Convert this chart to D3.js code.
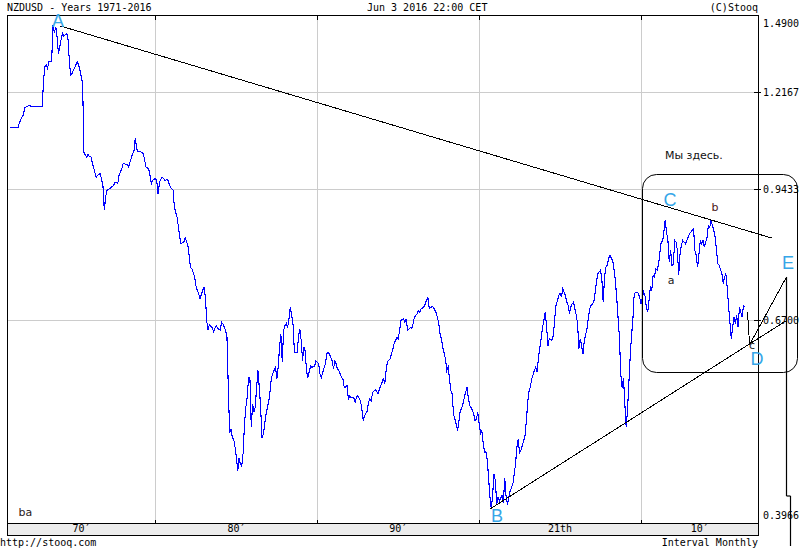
<!DOCTYPE html>
<html><head><meta charset="utf-8">
<script src="https://cdn.jsdelivr.net/npm/d3@7"></script>
<style>body{margin:0;background:#fff}svg{display:block}</style>
</head><body><svg id="c" width="800" height="550"></svg>
<script>
const title = "NZDUSD - Years 1971-2016";
const stamp = "Jun 3 2016 22:00 CET";
const credit = "(C)Stooq";
const source = "http://stooq.com";
const interval = "Interval Monthly";
const yTickValues = [1.4900, 1.2167, 0.9433, 0.6700, 0.3966];
const decadeStarts = [1970, 1980, 1990, 2000, 2010, 2020];
const decadeLabels = ["70′", "80′", "90′", "21th", "10′"];

const dates = [
"1971-01","1971-07","1971-08","1971-10","1971-11","1971-12","1972-02","1972-04","1972-05","1973-01",
"1973-02","1973-03","1973-04","1973-05","1973-06","1973-08","1973-09","1973-10","1973-11","1973-12",
"1974-01","1974-02","1974-03","1974-04","1974-05","1974-07","1974-08","1974-09","1974-10","1974-11",
"1974-12","1975-01","1975-03","1975-04","1975-05","1975-06","1975-07","1975-08","1975-10","1975-11",
"1975-12","1976-01","1976-02","1976-03","1976-04","1976-05","1976-07","1976-08","1976-10","1976-11",
"1976-12","1977-01","1977-03","1977-06","1977-07","1977-09","1977-10","1977-12","1978-01","1978-04",
"1978-05","1978-07","1978-08","1978-09","1978-10","1978-11","1978-12","1979-02","1979-04","1979-06",
"1979-08","1979-10","1979-11","1980-01","1980-02","1980-03","1980-04","1980-06","1980-08","1980-10",
"1980-11","1980-12","1981-02","1981-03","1981-05","1981-06","1981-07","1981-08","1981-10","1981-11",
"1982-01","1982-02","1982-03","1982-04","1982-06","1982-07","1982-08","1982-09","1982-10","1982-12",
"1983-01","1983-02","1983-03","1983-04","1983-05","1983-07","1983-08","1983-10","1983-11","1984-01",
"1984-02","1984-03","1984-05","1984-06","1984-07","1984-08","1984-09","1984-10","1984-11","1984-12",
"1985-01","1985-02","1985-03","1985-04","1985-05","1985-06","1985-07","1985-08","1985-09","1985-10",
"1985-11","1985-12","1986-01","1986-02","1986-03","1986-04","1986-05","1986-06","1986-07","1986-08",
"1986-09","1986-10","1986-11","1987-01","1987-02","1987-03","1987-04","1987-06","1987-07","1987-08",
"1987-09","1987-10","1987-11","1987-12","1988-01","1988-02","1988-03","1988-04","1988-05","1988-06",
"1988-07","1988-08","1988-10","1988-11","1988-12","1989-01","1989-02","1989-03","1989-04","1989-05",
"1989-06","1989-08","1989-09","1989-11","1989-12","1990-02","1990-03","1990-04","1990-05","1990-07",
"1990-08","1990-09","1990-10","1990-12","1991-01","1991-02","1991-03","1991-04","1991-05","1991-07",
"1991-08","1991-09","1991-11","1991-12","1992-01","1992-02","1992-04","1992-05","1992-06","1992-07",
"1992-09","1992-10","1992-11","1992-12","1993-02","1993-03","1993-04","1993-05","1993-06","1993-08",
"1993-09","1993-10","1993-11","1994-01","1994-02","1994-03","1994-04","1994-05","1994-06","1994-07",
"1994-09","1994-10","1994-12","1995-01","1995-02","1995-03","1995-05","1995-06","1995-07","1995-08",
"1995-10","1995-11","1995-12","1996-01","1996-03","1996-04","1996-05","1996-06","1996-08","1996-09",
"1996-10","1996-11","1996-12","1997-02","1997-03","1997-04","1997-05","1997-07","1997-08","1997-09",
"1997-10","1997-12","1998-01","1998-02","1998-03","1998-04","1998-05","1998-06","1998-08","1998-09",
"1998-10","1998-11","1998-12","1999-01","1999-02","1999-04","1999-05","1999-06","1999-07","1999-09",
"1999-10","1999-11","1999-12","2000-02","2000-03","2000-04","2000-05","2000-06","2000-07","2000-08",
"2000-09","2000-10","2000-11","2000-12","2001-01","2001-02","2001-03","2001-04","2001-06","2001-07",
"2001-08","2001-09","2001-10","2001-11","2001-12","2002-02","2002-03","2002-04","2002-05","2002-06",
"2002-07","2002-08","2002-10","2002-11","2002-12","2003-01","2003-02","2003-03","2003-04","2003-06",
"2003-07","2003-08","2003-09","2003-11","2003-12","2004-01","2004-02","2004-03","2004-04","2004-05",
"2004-07","2004-08","2004-09","2004-10","2004-12","2005-01","2005-02","2005-03","2005-05","2005-06",
"2005-07","2005-08","2005-09","2005-10","2005-11","2006-01","2006-02","2006-03","2006-04","2006-05",
"2006-06","2006-07","2006-09","2006-10","2006-11","2006-12","2007-02","2007-03","2007-04","2007-05",
"2007-07","2007-08","2007-09","2007-10","2007-11","2007-12","2008-01","2008-02","2008-04","2008-05",
"2008-06","2008-07","2008-09","2008-10","2008-11","2008-12","2009-01","2009-02","2009-03","2009-04",
"2009-05","2009-06","2009-07","2009-08","2009-10","2009-11","2009-12","2010-01","2010-03","2010-04",
"2010-05","2010-06","2010-07","2010-08","2010-09","2010-10","2010-11","2010-12","2011-01","2011-02",
"2011-03","2011-04","2011-05","2011-06","2011-07","2011-08","2011-09","2011-10","2011-11","2011-12",
"2012-01","2012-02","2012-03","2012-04","2012-05","2012-06","2012-07","2012-08","2012-10","2012-11",
"2012-12","2013-01","2013-03","2013-04","2013-05","2013-06","2013-07","2013-09","2013-10","2013-11",
"2013-12","2014-02","2014-03","2014-04","2014-05","2014-07","2014-08","2014-09","2014-10","2014-11",
"2015-01","2015-02","2015-03","2015-04","2015-05","2015-06","2015-07","2015-08","2015-09","2015-10",
"2015-11","2015-12","2016-01","2016-02","2016-04","2016-05","2016-06"
];
const values = [
1.109,1.109,1.123,1.141,1.146,1.169,1.174,1.176,1.172,1.173,
1.260,1.301,1.307,1.296,1.319,1.321,1.452,1.421,1.445,1.408,
1.345,1.371,1.396,1.420,1.410,1.420,1.408,1.330,1.273,1.277,
1.290,1.296,1.319,1.307,1.290,1.268,1.246,1.038,1.028,1.035,
1.028,1.030,1.015,1.001,0.988,0.975,0.982,0.984,0.954,0.894,
0.926,0.942,0.946,0.954,0.963,0.959,0.980,0.997,1.010,1.008,
1.001,1.024,1.037,1.042,1.081,1.051,1.042,1.042,1.037,1.001,
0.997,0.959,0.967,0.972,0.963,0.932,0.963,0.975,0.967,0.969,
0.959,0.950,0.942,0.902,0.878,0.856,0.833,0.819,0.823,0.832,
0.816,0.791,0.770,0.767,0.751,0.734,0.725,0.719,0.709,0.725,
0.731,0.712,0.670,0.653,0.663,0.658,0.651,0.661,0.657,0.653,
0.667,0.664,0.653,0.641,0.562,0.500,0.504,0.493,0.491,0.481,
0.468,0.452,0.468,0.460,0.458,0.474,0.511,0.534,0.548,0.577,
0.577,0.507,0.539,0.527,0.534,0.562,0.588,0.562,0.534,0.493,
0.498,0.511,0.525,0.543,0.558,0.577,0.583,0.593,0.575,0.593,
0.625,0.647,0.601,0.653,0.661,0.665,0.658,0.673,0.694,0.679,
0.664,0.617,0.617,0.641,0.656,0.636,0.603,0.625,0.619,0.588,
0.577,0.595,0.593,0.595,0.603,0.598,0.583,0.577,0.585,0.598,
0.614,0.617,0.614,0.603,0.590,0.603,0.598,0.590,0.588,0.577,
0.575,0.562,0.565,0.546,0.550,0.548,0.548,0.541,0.548,0.550,
0.543,0.532,0.516,0.522,0.529,0.541,0.546,0.543,0.555,0.559,
0.557,0.553,0.560,0.570,0.577,0.567,0.588,0.601,0.604,0.606,
0.622,0.631,0.641,0.639,0.653,0.670,0.673,0.667,0.673,0.653,
0.658,0.656,0.664,0.676,0.682,0.688,0.685,0.691,0.694,0.700,
0.707,0.711,0.691,0.695,0.694,0.689,0.685,0.667,0.647,0.639,
0.625,0.606,0.588,0.593,0.577,0.558,0.553,0.525,0.511,0.502,
0.515,0.530,0.532,0.539,0.548,0.563,0.548,0.536,0.534,0.525,
0.515,0.518,0.527,0.498,0.502,0.487,0.475,0.475,0.466,0.444,
0.422,0.409,0.425,0.448,0.441,0.414,0.422,0.418,0.424,0.416,
0.444,0.422,0.414,0.422,0.429,0.437,0.448,0.460,0.481,0.491,
0.474,0.477,0.489,0.496,0.515,0.541,0.558,0.563,0.575,0.588,
0.593,0.585,0.609,0.639,0.658,0.670,0.685,0.661,0.627,0.639,
0.636,0.644,0.673,0.697,0.715,0.719,0.712,0.728,0.715,0.703,
0.697,0.682,0.694,0.700,0.703,0.679,0.664,0.622,0.639,0.627,
0.614,0.636,0.656,0.676,0.691,0.697,0.703,0.719,0.741,0.757,
0.764,0.747,0.703,0.751,0.770,0.774,0.788,0.794,0.784,0.767,
0.744,0.712,0.641,0.583,0.562,0.577,0.539,0.507,0.529,0.567,
0.609,0.644,0.670,0.719,0.722,0.719,0.712,0.700,0.722,0.715,
0.694,0.685,0.706,0.731,0.725,0.754,0.751,0.767,0.764,0.777,
0.798,0.823,0.823,0.844,0.871,0.844,0.826,0.781,0.805,0.774,
0.777,0.826,0.823,0.805,0.754,0.798,0.816,0.826,0.819,0.826,
0.833,0.841,0.848,0.852,0.805,0.794,0.770,0.826,0.819,0.826,
0.812,0.833,0.859,0.854,0.871,0.848,0.833,0.805,0.777,0.774,
0.757,0.738,0.751,0.757,0.731,0.694,0.667,0.639,0.658,0.676,
0.664,0.679,0.658,0.694,0.676,0.697,0.694
];

// Hand-drawn annotations, in [decimal year, value]
const trendUpper = [[1974.10, 1.4477], [2018.09, 0.8315]];
const trendLower = [[2000.63, 0.4089], [2019.02, 0.6701]];
const legDE = [[2016.74, 0.6318], [2019.02, 0.7509]];
const legC = [[2016.59, 0.6852], [2016.71, 0.6318]];
const dropE = [[2019.02, 0.7509], [2019.02, 0.4234], [2019.27, 0.4234], [2019.27, 0.3715]];
const boxCorners = [[2010.12, 0.9830], [2019.70, 0.5841]];
const waveLabels = [
  {t: "A", at: [1973.97, 1.4440]}, {t: "B", at: [2001.10, 0.3956]},
  {t: "C", at: [2011.79, 0.9041]}, {t: "D", at: [2017.17, 0.5965]},
  {t: "E", at: [2019.08, 0.7667]}
];
const subLabels = [
  {t: "a", at: [2011.86, 0.7372], c: "#222"},
  {t: "b", at: [2014.57, 0.8923], c: "#4a1515"},
  {t: "c", at: [2016.86, 0.6219], c: "#222"}
];
const noteText = "Мы здесь.";
const noteAt = [2011.48, 1.0224];
const cornerText = "ba";

const svg = d3.select("#c");
const L = 7.5, R = 758.5, T = 15.5, B = 523.5, BB = 535.5;
const parse = d3.timeParse("%Y-%m");
const yr = t => { const y = Math.floor(t); const s = new Date(y, 0, 1), e = new Date(y + 1, 0, 1); return new Date(+s + (t - y) * (e - s)); };

const x = d3.scaleTime().domain([new Date(1980, 0, 1), new Date(2010, 0, 1)]).range([155.5, 641]);
const y = d3.scaleLog().domain([0.3966, 1.49]).range([521, 15]);
const px = d => x(yr(d[0])), py = d => y(d[1]);
const snap = v => Math.round(v - 0.5) + 0.5;
const mono = "'DejaVu Sans Mono', monospace";
const sans = "'DejaVu Sans', sans-serif";

// x-axis band
svg.append("rect").attr("x", L).attr("y", B).attr("width", R - L).attr("height", BB - B).attr("fill", "#ececec");

// grid
const gx = decadeStarts.slice(1, 5).map(d => Math.floor(x(new Date(d, 0, 1))) + 0.5);
svg.selectAll(".vg").data(gx).enter().append("line")
  .attr("x1", d => d).attr("x2", d => d).attr("y1", T).attr("y2", B)
  .attr("stroke", "#cccccc").attr("shape-rendering", "crispEdges");
const gy = yTickValues.slice(1, 4).map(v => Math.floor(y(v)) + 0.5);
svg.selectAll(".hg").data(gy).enter().append("line")
  .attr("x1", L).attr("x2", R).attr("y1", d => d).attr("y2", d => d)
  .attr("stroke", "#cccccc").attr("shape-rendering", "crispEdges");

// data line
const series = dates.map((d, i) => ({date: parse(d), v: values[i]}));
svg.append("path").datum(series)
  .attr("d", d3.line().x(d => x(d.date)).y(d => y(d.v)))
  .attr("fill", "none").attr("stroke", "#0000ff").attr("stroke-width", 1.1)
  .attr("shape-rendering", "crispEdges");

// frame
svg.append("path").attr("d", `M${L},${T}H${R}V${BB}H${L}Z M${L},${B}H${R}`)
  .attr("fill", "none").attr("stroke", "#000").attr("shape-rendering", "crispEdges");
svg.selectAll(".tx").data(gx).enter().append("path")
  .attr("d", d => `M${d},${T}V${T + 4}M${d},${B - 4}V${B}`)
  .attr("stroke", "#000").attr("shape-rendering", "crispEdges");
svg.selectAll(".ty").data(gy).enter().append("path")
  .attr("d", d => `M${R - 5},${d}H${R + 2}`)
  .attr("stroke", "#000").attr("shape-rendering", "crispEdges");

// y labels
svg.selectAll(".yl").data(yTickValues).enter().append("text")
  .attr("x", 763).attr("y", v => Math.max(23.5, Math.min(515, y(v))) + 3.5)
  .attr("font-family", mono).attr("font-size", 10).attr("fill", "#000")
  .text(v => v.toFixed(4));

// x labels
svg.selectAll(".xl").data(decadeLabels).enter().append("text")
  .attr("x", (d, i) => {
    const a = Math.max(L, x(new Date(decadeStarts[i], 0, 1)));
    const b = Math.min(R, x(new Date(decadeStarts[i + 1], 0, 1)));
    return (a + b) / 2;
  })
  .attr("y", 532).attr("text-anchor", "middle")
  .attr("font-family", mono).attr("font-size", 10).attr("fill", "#000")
  .text(d => d);

// header / footer
const txt = (s, X, Y, anchor) => svg.append("text").attr("x", X).attr("y", Y)
  .attr("text-anchor", anchor || "start").attr("font-family", mono).attr("font-size", 10)
  .attr("fill", "#000").text(s);
txt(title, 7, 11);
txt(stamp, 367, 11);
txt(credit, 758, 11, "end");
txt(source, 0, 546);
txt(interval, 758, 546, "end");

// annotations
const ln = d3.line().x(d => snap(px(d))).y(d => py(d));
[trendUpper, trendLower, legDE, legC].forEach(p =>
  svg.append("path").attr("d", ln(p)).attr("fill", "none").attr("stroke", "#000")
    .attr("stroke-width", 1).attr("shape-rendering", "crispEdges"));
const segs = d3.pairs(dropE);
svg.selectAll(".drop").data(segs).enter().append("line")
  .attr("x1", s => snap(px(s[0]))).attr("y1", s => py(s[0]))
  .attr("x2", s => snap(px(s[1]))).attr("y2", s => py(s[1]))
  .attr("stroke", "#000").attr("stroke-width", 1.2);
const bx0 = snap(px(boxCorners[0])), by0 = snap(py(boxCorners[0]));
const bx1 = snap(px(boxCorners[1])), by1 = snap(py(boxCorners[1]));
svg.append("rect").attr("x", bx0).attr("y", by0).attr("width", bx1 - bx0).attr("height", by1 - by0)
  .attr("rx", 14).attr("ry", 14).attr("fill", "none").attr("stroke", "#000");

svg.selectAll(".wl").data(waveLabels).enter().append("text")
  .attr("x", d => px(d.at)).attr("y", d => py(d.at)).attr("text-anchor", "middle")
  .attr("font-family", "'Liberation Sans', Arial, sans-serif").attr("font-size", 18)
  .attr("fill", "#36a6e8").text(d => d.t);
svg.selectAll(".sl").data(subLabels).enter().append("text")
  .attr("x", d => px(d.at)).attr("y", d => py(d.at)).attr("text-anchor", "middle")
  .attr("font-family", sans).attr("font-size", 11).attr("fill", d => d.c).text(d => d.t);
svg.append("text").attr("x", px(noteAt)).attr("y", py(noteAt))
  .attr("font-family", sans).attr("font-size", 11).attr("fill", "#111").text(noteText);
svg.append("text").attr("x", L + 11).attr("y", B - 8)
  .attr("font-family", sans).attr("font-size", 11).attr("fill", "#2a1a1a").text(cornerText);
</script></body></html>
